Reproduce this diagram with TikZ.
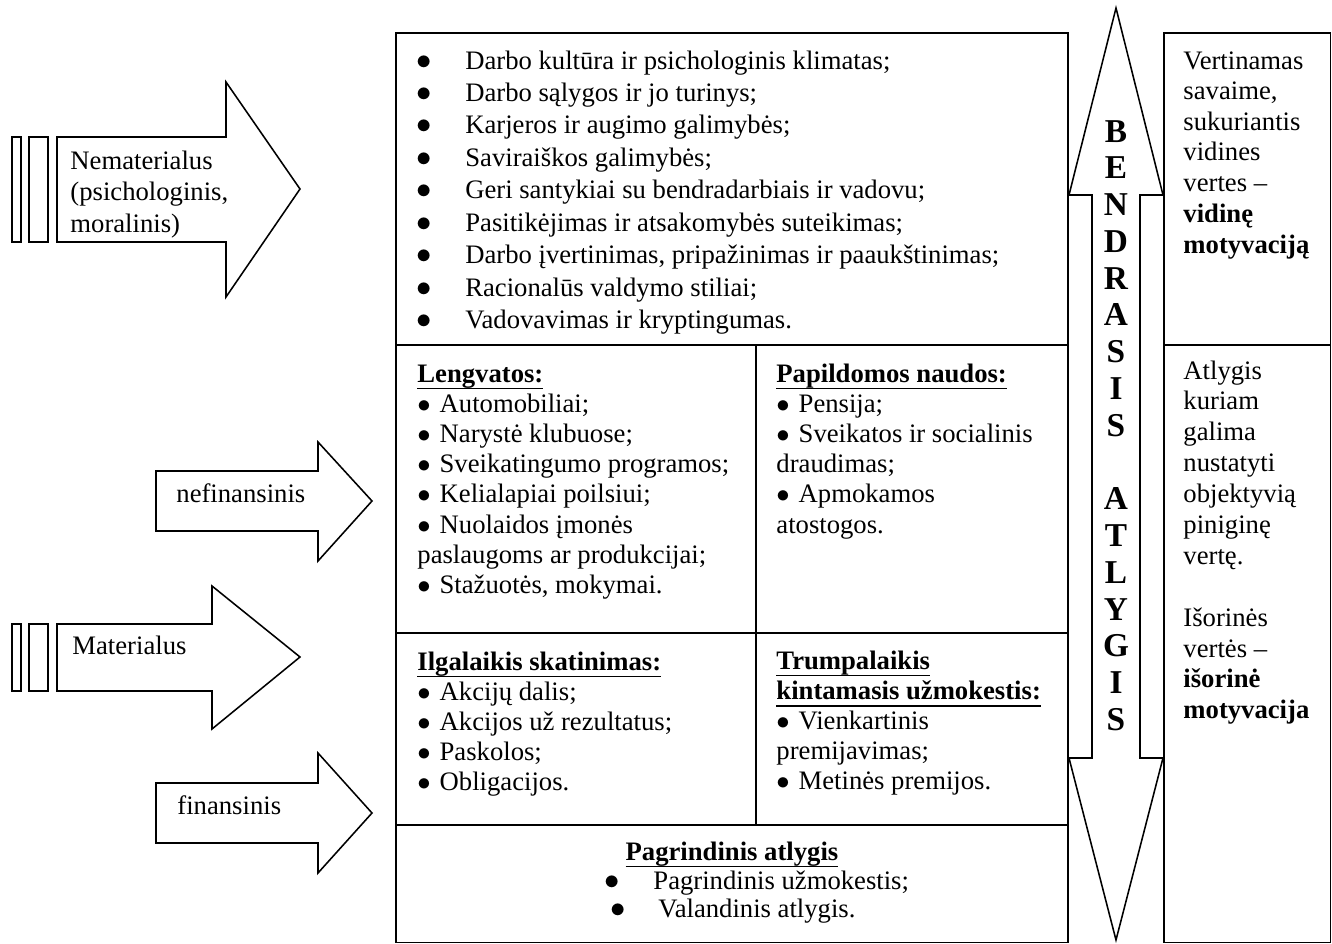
\documentclass[tikz,border=0pt]{standalone}
\usepackage{fontspec}
\setmainfont{Liberation Serif}
\newcommand{\punktas}{$\bullet$\hspace{4pt}}
\newcommand{\taskas}{\scalebox{1.15}{$\bullet$}}
\newcommand{\pabr}[1]{\leavevmode\setbox0=\hbox{#1}\rlap{\rule[-3.3pt]{\wd0}{0.65pt}}\box0}

\begin{document}
\begin{tikzpicture}[x=0.45pt,y=-0.45pt,
    linija/.style={line width=0.7pt},
    tekstas/.style={inner sep=0pt,anchor=base west,font=\fontsize{12}{13.6}\selectfont}]
        \useasboundingbox (0,0) rectangle (1332,944);

        % Pagrindinė lentelė ir dešinysis stulpelis
        \coordinate (LV) at (396,33);
        \coordinate (LA) at (1068,942.5);
        \coordinate (DV) at (1164,33);
        \coordinate (DA) at (1330.5,942.5);

        \draw[linija] (LV) rectangle (LA);
        \draw[linija] (396,345) -- (1068,345);
        \draw[linija] (396,633) -- (1068,633);
        \draw[linija] (396,825) -- (1068,825);
        \draw[linija] (756,345) -- (756,825);

        \draw[linija] (DV) rectangle (DA);
        \draw[linija] (1164,345) -- (1330.5,345);

        % Dvipusė rodyklė
        \draw[linija] (1116,8) -- (1163,195) -- (1140,195) -- (1140,758) -- (1163,758)
            -- (1116,940) -- (1069,758) -- (1092,758) -- (1092,195) -- (1069,195) -- cycle;

        % Kairiosios rodyklės
        \draw[linija] (12,137) rectangle (21,242);
        \draw[linija] (29,137) rectangle (48,242);
        \draw[linija] (57,137) -- (226,137) -- (226,82) -- (300,189) -- (226,297) -- (226,242) -- (57,242) -- cycle;

        \draw[linija] (156,471) -- (318,471) -- (318,442) -- (372,501) -- (318,561) -- (318,531) -- (156,531) -- cycle;

        \draw[linija] (12,624) rectangle (21,691);
        \draw[linija] (29,624) rectangle (48,691);
        \draw[linija] (57,624) -- (212,624) -- (212,586) -- (300,657) -- (212,729) -- (212,691) -- (57,691) -- cycle;

        \draw[linija] (156,783) -- (318,783) -- (318,753) -- (372,813) -- (318,873) -- (318,843) -- (156,843) -- cycle;

        % Rodyklių užrašai
        \node[tekstas,font=\fontsize{12}{14.2}\selectfont] (nemat) at (70,169)
            {\begin{tabular}[t]{@{}l@{}}Nematerialus\\(psichologinis,\\moralinis)\end{tabular}};
        \node[tekstas] (nefin) at (176,502) {nefinansinis};
        \node[tekstas] (mat) at (72,654) {Materialus};
        \node[tekstas] (fin) at (177,814) {finansinis};

        % Nematerialus atlygis
        \node[tekstas,font=\fontsize{12}{14.6}\selectfont] (nematsar) at (416,69)
            {\begin{tabular}[t]{@{}p{22pt}@{}l@{}}
            \taskas & Darbo kultūra ir psichologinis klimatas;\\
            \taskas & Darbo sąlygos ir jo turinys;\\
            \taskas & Karjeros ir augimo galimybės;\\
            \taskas & Saviraiškos galimybės;\\
            \taskas & Geri santykiai su bendradarbiais ir vadovu;\\
            \taskas & Pasitikėjimas ir atsakomybės suteikimas;\\
            \taskas & Darbo įvertinimas, pripažinimas ir paaukštinimas;\\
            \taskas & Racionalūs valdymo stiliai;\\
            \taskas & Vadovavimas ir kryptingumas.
            \end{tabular}};

        % Nefinansinis
        \node[tekstas] (lengv) at (417,382)
            {\begin{tabular}[t]{@{}l@{}}
            \pabr{\textbf{Lengvatos:}}\\
            \punktas Automobiliai;\\
            \punktas Narystė klubuose;\\
            \punktas Sveikatingumo programos;\\
            \punktas Kelialapiai poilsiui;\\
            \punktas Nuolaidos įmonės\\
            paslaugoms ar produkcijai;\\
            \punktas Stažuotės, mokymai.
            \end{tabular}};
        \node[tekstas] (papild) at (776,382)
            {\begin{tabular}[t]{@{}l@{}}
            \pabr{\textbf{Papildomos naudos:}}\\
            \punktas Pensija;\\
            \punktas Sveikatos ir socialinis\\
            draudimas;\\
            \punktas Apmokamos\\
            atostogos.
            \end{tabular}};

        % Finansinis
        \node[tekstas] (ilgal) at (417,670)
            {\begin{tabular}[t]{@{}l@{}}
            \pabr{\textbf{Ilgalaikis skatinimas:}}\\
            \punktas Akcijų dalis;\\
            \punktas Akcijos už rezultatus;\\
            \punktas Paskolos;\\
            \punktas Obligacijos.
            \end{tabular}};
        \node[tekstas] (trump) at (776,669)
            {\begin{tabular}[t]{@{}l@{}}
            \pabr{\textbf{Trumpalaikis}}\\
            \pabr{\textbf{kintamasis užmokestis:}}\\
            \punktas Vienkartinis\\
            premijavimas;\\
            \punktas Metinės premijos.
            \end{tabular}};

        % Pagrindinis atlygis
        \node[tekstas,anchor=base] (pagr) at (732,860) {\pabr{\textbf{Pagrindinis atlygis}}};
        \node[tekstas] (pb1) at (604,889) {\taskas};
        \node[tekstas] (pt1) at (653,889) {Pagrindinis užmokestis;};
        \node[tekstas] (pb2) at (610,917) {\taskas};
        \node[tekstas] (pt2) at (658,917) {Valandinis atlygis.};

        % Bendrasis atlygis
        \node[tekstas,anchor=base,font=\fontsize{15}{16.55}\selectfont\bfseries] (bendr) at (1116,142)
            {\begin{tabular}[t]{@{}c@{}}B\\E\\N\\D\\R\\A\\S\\I\\S\\ \\A\\T\\L\\Y\\G\\I\\S\end{tabular}};

        % Dešinysis stulpelis
        \node[tekstas,font=\fontsize{12}{13.8}\selectfont] (vidine) at (1183,69)
            {\begin{tabular}[t]{@{}l@{}}
            Vertinamas\\savaime,\\sukuriantis\\vidines\\vertes --\\
            \textbf{vidinę}\\\textbf{motyvaciją}
            \end{tabular}};
        \node[tekstas,font=\fontsize{12}{13.9}\selectfont] (isorine) at (1183,379)
            {\begin{tabular}[t]{@{}l@{}}
            Atlygis\\kuriam\\galima\\nustatyti\\objektyvią\\piniginę\\vertę.\\ \\
            Išorinės\\vertės --\\\textbf{išorinė}\\\textbf{motyvacija}
            \end{tabular}};
    \end{tikzpicture}
\end{document}
